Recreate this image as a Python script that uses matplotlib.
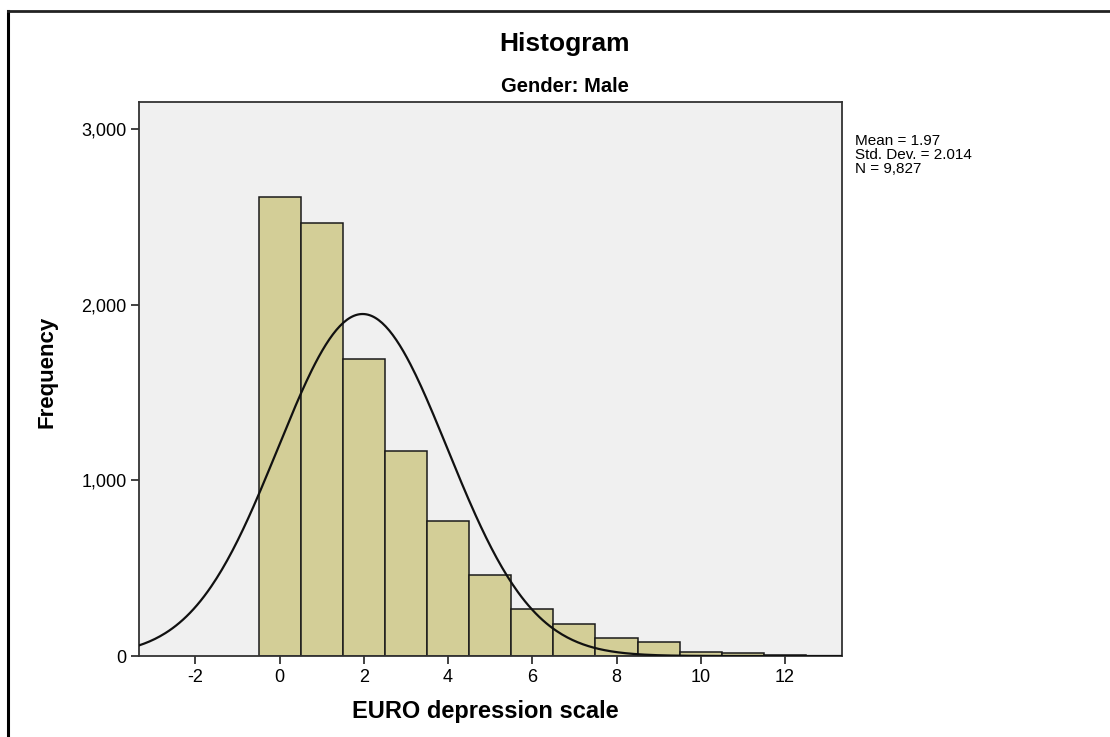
import matplotlib
matplotlib.use("Agg")
import matplotlib.pyplot as plt
from matplotlib.lines import Line2D
import numpy as np

plt.rcParams['font.family'] = ['Liberation Sans', 'DejaVu Sans']
plt.rcParams['axes.unicode_minus'] = False

# EURO-D scores and how many men had each score
scores = [0, 1, 2, 3, 4, 5, 6, 7, 8, 9, 10, 11, 12]
counts = [2612, 2462, 1688, 1165, 771, 462, 267, 180, 100, 78, 21, 15, 5]

mean_score = 1.97
sd_score = 2.014
n_total = 9827

x_ticks = [-2, 0, 2, 4, 6, 8, 10, 12]
y_ticks = [0, 1000, 2000, 3000]

fig = plt.figure(figsize=(11.1, 7.37), dpi=100)
ax = fig.add_axes([0.1252, 0.1099, 0.6336, 0.7521])
ax.set_facecolor('#F0F0F0')

ax.bar(scores, counts, width=1.0, color='#D3CE97', edgecolor='#1a1a1a',
       linewidth=1.1, zorder=2)

# fitted normal curve, scaled to the counts (bin width 1)
xs = np.linspace(-3.34, 13.36, 400)
ys = n_total / (sd_score * np.sqrt(2 * np.pi)) * np.exp(-0.5 * ((xs - mean_score) / sd_score) ** 2)
ax.plot(xs, ys, color='#111111', linewidth=1.6, zorder=3)

ax.set_xlim(-3.34, 13.36)
ax.set_ylim(0, 3155)
ax.set_xticks(x_ticks)
ax.set_yticks(y_ticks)
ax.set_yticklabels([f'{v:,}' for v in y_ticks])
ax.tick_params(direction='out', length=6, width=1.3, color='#333333',
               labelsize=13, pad=3)
for sp in ax.spines.values():
    sp.set_color('#333333')
    sp.set_linewidth(1.3)

fig.text(0.509, 0.940, 'Histogram', ha='center', va='center', fontsize=19,
         fontweight='bold')
fig.text(0.509, 0.883, 'Gender: Male', ha='center', va='center',
         fontsize=14.5, fontweight='bold')
fig.text(0.437, 0.035, 'EURO depression scale', ha='center', va='center',
         fontsize=17, fontweight='bold')
fig.text(0.042, 0.495, 'Frequency', ha='center', va='center', rotation=90,
         fontsize=16, fontweight='bold')

# summary statistics, one line each
stat_lines = [f'Mean = {mean_score:.2f}',
              f'Std. Dev. = {sd_score:.3f}',
              f'N = {n_total:,}']
for i, line in enumerate(stat_lines):
    fig.text(0.770, 1 - (141 + 14 * i) / 737, line, ha='left', va='center',
             fontsize=11)

# outer frame
fig.add_artist(Line2D([8 / 1110, 8 / 1110], [1 - 11 / 737, 0], transform=fig.transFigure,
                      color='black', linewidth=2.2))
fig.add_artist(Line2D([8 / 1110, 1], [1 - 11 / 737, 1 - 11 / 737], transform=fig.transFigure,
                      color='#222222', linewidth=2.0))

fig.savefig('out.png', dpi=100)
